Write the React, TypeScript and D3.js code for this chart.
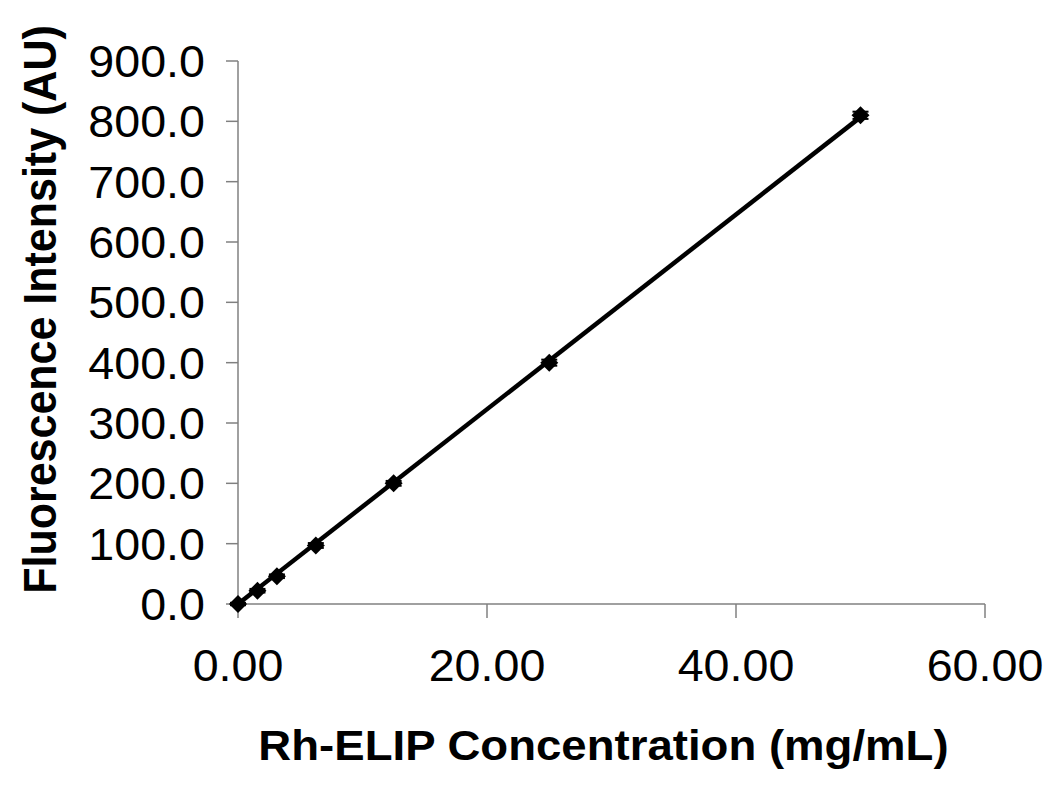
import * as d3 from "d3";
import React from "react";

const concentrations = [0, 1.5625, 3.125, 6.25, 12.5, 25, 50];
const intensities = [0, 22, 46, 97, 200, 400, 810];
const errors = [2, 3, 3, 4, 4, 5, 6];
const xTicks = [0, 20, 40, 60];
const yTicks = [0, 100, 200, 300, 400, 500, 600, 700, 800, 900];

const App = () => {
  const width = 1050;
  const height = 787;
  const margin = { top: 61, right: 65, bottom: 183, left: 238 };
  const innerWidth = width - margin.left - margin.right;
  const innerHeight = height - margin.top - margin.bottom;

  const xScale = d3.scaleLinear().domain([0, 60]).range([0, innerWidth]);
  const yScale = d3.scaleLinear().domain([0, 900]).range([innerHeight, 0]);

  // linear trendline
  const slope = d3.sum(concentrations, (c, i) => c * intensities[i]) / d3.sum(concentrations, (c) => c * c);
  const trend = d3
    .line<number>()
    .x((c) => xScale(c))
    .y((c) => yScale(c * slope));

  const r = 9;
  const diamond = `M0,${-r}L${r},0L0,${r}L${-r},0Z`;
  const font = "'Liberation Sans', Arial, sans-serif";
  const sx = 1.06; // text in the original looks a bit stretched horizontally

  return (
    <svg width={width} height={height} style={{ position: "absolute", left: 0, top: 0, background: "#fff" }}>
      <g transform={`translate(${margin.left},${margin.top})`}>
        {/* axes */}
        <line x1={0} x2={0} y1={0} y2={innerHeight} stroke="#808080" strokeWidth={1.5} />
        <line x1={0} x2={innerWidth} y1={innerHeight} y2={innerHeight} stroke="#808080" strokeWidth={1.5} />
        {yTicks.map((t) => (
          <g key={"y" + t} transform={`translate(0,${yScale(t)})`}>
            <line x1={-12} x2={0} stroke="#808080" strokeWidth={1.5} />
            <text
              transform={`translate(-33,0) scale(${sx},1)`}
              dy="0.36em"
              textAnchor="end"
              fontFamily={font}
              fontSize={44}
            >
              {t.toFixed(1)}
            </text>
          </g>
        ))}
        {xTicks.map((t) => (
          <g key={"x" + t} transform={`translate(${xScale(t)},${innerHeight})`}>
            <line y1={0} y2={14} stroke="#808080" strokeWidth={1.5} />
            <text
              transform={`translate(0,61) scale(${sx},1)`}
              dy="0.36em"
              textAnchor="middle"
              fontFamily={font}
              fontSize={44}
            >
              {t.toFixed(2)}
            </text>
          </g>
        ))}

        {/* trendline */}
        <path d={trend([0, 50]) || ""} fill="none" stroke="#000" strokeWidth={4.5} />

        {/* error bars and markers */}
        {concentrations.map((c, i) => {
          const x = xScale(c);
          const y = yScale(intensities[i]);
          const e = yScale(0) - yScale(errors[i]);
          return (
            <g key={"p" + i}>
              <line x1={x} x2={x} y1={y - e} y2={y + e} stroke="#000" strokeWidth={2} />
              <line x1={x - 8} x2={x + 8} y1={y - e} y2={y - e} stroke="#000" strokeWidth={2} />
              <line x1={x - 8} x2={x + 8} y1={y + e} y2={y + e} stroke="#000" strokeWidth={2} />
              <path d={diamond} transform={`translate(${x},${y})`} fill="#000" />
            </g>
          );
        })}

        {/* axis titles */}
        <text
          transform={`translate(${innerWidth / 2 - 8},${innerHeight + 141}) scale(${sx},1)`}
          dy="0.36em"
          textAnchor="middle"
          fontFamily={font}
          fontWeight="bold"
          fontSize={43}
        >
          Rh-ELIP Concentration (mg/mL)
        </text>
        <text
          transform={`translate(${-198},${innerHeight / 2 - 23}) rotate(-90) scale(1,${sx})`}
          dy="0.36em"
          textAnchor="middle"
          fontFamily={font}
          fontWeight="bold"
          fontSize={43}
        >
          Fluorescence Intensity (AU)
        </text>
      </g>
    </svg>
  );
};

export default App;
